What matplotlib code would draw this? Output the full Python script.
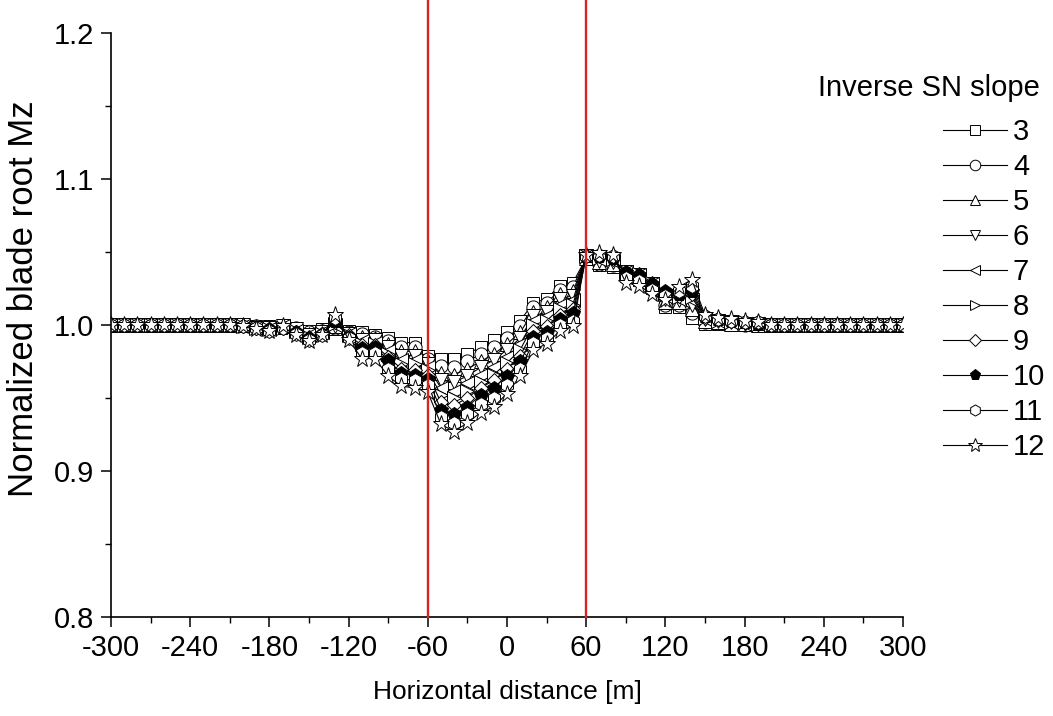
import matplotlib
matplotlib.use("Agg")
import matplotlib.pyplot as plt
from matplotlib.ticker import MultipleLocator, FormatStrFormatter

plt.rcParams["font.family"] = ["Liberation Sans", "DejaVu Sans"]
plt.rcParams["axes.unicode_minus"] = False

distance = [-300, -290, -280, -270, -260, -250, -240, -230, -220, -210,
            -200, -190, -180, -170, -160, -150, -140, -130, -120, -110,
            -100, -90, -80, -70, -60, -50, -40, -30, -20, -10,
            0, 10, 20, 30, 40, 50, 60, 70, 80, 90,
            100, 110, 120, 130, 140, 150, 160, 170, 180, 190,
            200, 210, 220, 230, 240, 250, 260, 270, 280, 290, 300]

s3 = [1.000, 1.000, 1.000, 1.000, 1.000, 1.000, 1.000, 1.000, 1.000, 1.000,
      1.000, 0.999, 0.999, 1.000, 0.998, 0.996, 0.997, 0.997, 0.996, 0.995,
      0.993, 0.991, 0.988, 0.988, 0.979, 0.977, 0.977, 0.980, 0.985, 0.990,
      0.995, 1.003, 1.015, 1.018, 1.027, 1.029, 1.046, 1.041, 1.040, 1.036,
      1.031, 1.025, 1.012, 1.012, 1.005, 1.001, 1.001, 1.000, 1.000, 1.000,
      1.000, 1.000, 1.000, 1.000, 1.000, 1.000, 1.000, 1.000, 1.000, 1.000, 1.000]
s4 = [1.000, 1.000, 1.000, 1.000, 1.000, 1.000, 1.000, 1.000, 1.000, 1.000,
      1.000, 0.999, 0.998, 0.999, 0.998, 0.995, 0.996, 0.998, 0.995, 0.994,
      0.992, 0.989, 0.985, 0.985, 0.977, 0.972, 0.971, 0.975, 0.980, 0.985,
      0.991, 0.999, 1.012, 1.015, 1.024, 1.026, 1.046, 1.042, 1.041, 1.036,
      1.032, 1.026, 1.014, 1.014, 1.008, 1.002, 1.002, 1.001, 1.000, 1.000,
      1.000, 1.000, 1.000, 1.000, 1.000, 1.000, 1.000, 1.000, 1.000, 1.000, 1.000]
s5 = [1.000, 1.000, 1.000, 1.000, 1.000, 1.000, 1.000, 1.000, 1.000, 1.000,
      1.000, 0.999, 0.998, 0.999, 0.997, 0.994, 0.996, 0.999, 0.995, 0.992,
      0.991, 0.987, 0.982, 0.982, 0.975, 0.967, 0.966, 0.970, 0.975, 0.980,
      0.987, 0.995, 1.009, 1.012, 1.021, 1.023, 1.046, 1.043, 1.042, 1.036,
      1.033, 1.027, 1.016, 1.016, 1.011, 1.003, 1.002, 1.001, 1.001, 1.000,
      1.000, 1.000, 1.000, 1.000, 1.000, 1.000, 1.000, 1.000, 1.000, 1.000, 1.000]
s6 = [1.000, 1.000, 1.000, 1.000, 1.000, 1.000, 1.000, 1.000, 1.000, 1.000,
      1.000, 0.998, 0.998, 0.999, 0.997, 0.993, 0.995, 0.999, 0.994, 0.990,
      0.990, 0.985, 0.979, 0.979, 0.973, 0.962, 0.961, 0.965, 0.971, 0.976,
      0.983, 0.991, 1.006, 1.009, 1.018, 1.020, 1.047, 1.044, 1.043, 1.036,
      1.034, 1.028, 1.018, 1.017, 1.014, 1.004, 1.003, 1.002, 1.001, 1.001,
      1.000, 1.000, 1.000, 1.000, 1.000, 1.000, 1.000, 1.000, 1.000, 1.000, 1.000]
s7 = [1.000, 1.000, 1.000, 1.000, 1.000, 1.000, 1.000, 1.000, 1.000, 1.000,
      0.999, 0.998, 0.997, 0.999, 0.996, 0.993, 0.995, 1.000, 0.994, 0.989,
      0.988, 0.982, 0.976, 0.976, 0.971, 0.957, 0.955, 0.960, 0.966, 0.971,
      0.978, 0.987, 1.003, 1.006, 1.014, 1.017, 1.047, 1.045, 1.044, 1.036,
      1.034, 1.028, 1.020, 1.018, 1.017, 1.004, 1.003, 1.002, 1.001, 1.001,
      1.000, 1.000, 1.000, 1.000, 1.000, 1.000, 1.000, 1.000, 1.000, 1.000, 1.000]
s8 = [1.000, 1.000, 1.000, 1.000, 1.000, 1.000, 1.000, 1.000, 1.000, 1.000,
      0.999, 0.998, 0.997, 0.998, 0.996, 0.992, 0.994, 1.001, 0.993, 0.987,
      0.987, 0.980, 0.973, 0.973, 0.969, 0.952, 0.950, 0.955, 0.961, 0.966,
      0.974, 0.983, 1.000, 1.003, 1.011, 1.014, 1.047, 1.046, 1.045, 1.036,
      1.035, 1.029, 1.021, 1.019, 1.019, 1.005, 1.003, 1.002, 1.002, 1.001,
      1.000, 1.000, 1.000, 1.000, 1.000, 1.000, 1.000, 1.000, 1.000, 1.000, 1.000]
s9 = [1.000, 1.000, 1.000, 1.000, 1.000, 1.000, 1.000, 1.000, 1.000, 1.000,
      0.999, 0.998, 0.997, 0.998, 0.995, 0.992, 0.994, 1.002, 0.993, 0.986,
      0.986, 0.978, 0.970, 0.969, 0.966, 0.947, 0.945, 0.950, 0.957, 0.962,
      0.970, 0.979, 0.996, 0.999, 1.007, 1.011, 1.047, 1.047, 1.045, 1.036,
      1.035, 1.029, 1.022, 1.020, 1.021, 1.005, 1.004, 1.003, 1.002, 1.001,
      1.000, 1.000, 1.000, 1.000, 1.000, 1.000, 1.000, 1.000, 1.000, 1.000, 1.000]
s10 = [1.000, 1.000, 1.000, 1.000, 1.000, 1.000, 1.000, 1.000, 1.000, 1.000,
       0.999, 0.998, 0.997, 0.998, 0.995, 0.991, 0.994, 1.003, 0.992, 0.984,
       0.985, 0.976, 0.967, 0.966, 0.963, 0.942, 0.939, 0.944, 0.952, 0.957,
       0.965, 0.975, 0.992, 0.995, 1.004, 1.008, 1.047, 1.047, 1.046, 1.036,
       1.034, 1.028, 1.023, 1.021, 1.023, 1.006, 1.004, 1.003, 1.002, 1.001,
       1.000, 1.000, 1.000, 1.000, 1.000, 1.000, 1.000, 1.000, 1.000, 1.000, 1.000]
s11 = [1.000, 1.000, 1.000, 1.000, 1.000, 1.000, 1.000, 1.000, 1.000, 1.000,
       0.999, 0.998, 0.996, 0.998, 0.994, 0.990, 0.993, 1.005, 0.991, 0.981,
       0.981, 0.970, 0.963, 0.962, 0.959, 0.937, 0.933, 0.939, 0.946, 0.950,
       0.959, 0.970, 0.988, 0.991, 1.000, 1.003, 1.047, 1.048, 1.047, 1.032,
       1.030, 1.024, 1.020, 1.023, 1.027, 1.006, 1.004, 1.003, 1.002, 1.002,
       1.000, 1.000, 1.000, 1.000, 1.000, 1.000, 1.000, 1.000, 1.000, 1.000, 1.000]
s12 = [1.000, 1.000, 1.000, 1.000, 1.000, 1.000, 1.000, 1.000, 1.000, 1.000,
       0.999, 0.997, 0.996, 0.999, 0.993, 0.989, 0.993, 1.007, 0.990, 0.977,
       0.977, 0.965, 0.958, 0.957, 0.954, 0.932, 0.927, 0.933, 0.940, 0.944,
       0.953, 0.965, 0.983, 0.987, 0.996, 0.999, 1.048, 1.049, 1.048, 1.029,
       1.027, 1.021, 1.017, 1.026, 1.031, 1.007, 1.005, 1.004, 1.003, 1.002,
       1.000, 1.000, 1.000, 1.000, 1.000, 1.000, 1.000, 1.000, 1.000, 1.000, 1.000]

slope_labels = ["3", "4", "5", "6", "7", "8", "9", "10", "11", "12"]
series = [s3, s4, s5, s6, s7, s8, s9, s10, s11, s12]
markers = ["s", "o", "^", "v", "<", ">", "D", "p", "h", "*"]
marker_sizes = [9, 9.5, 9.5, 9.5, 9.5, 9.5, 7.5, 10, 10, 12.5]
fills = ["white"] * 7 + ["black"] + ["white"] * 2

wake_edges = [-60, 60]

fig = plt.figure(figsize=(10.53, 7.16), dpi=100)
ax = fig.add_axes([0.1054, 0.1383, 0.7521, 0.8156])

for vals, lab, m, ms, fc in zip(series, slope_labels, markers, marker_sizes, fills):
    ax.plot(distance, vals, color="black", lw=0.8, marker=m, markersize=ms,
            markerfacecolor=fc, markeredgecolor="black", markeredgewidth=0.7,
            label=lab)

for xv in wake_edges:
    ax.axvline(xv, ymin=0, ymax=1.06, color="#dc2222", lw=1.7, clip_on=False, zorder=5)

ax.set_xlim(-300, 300)
ax.set_ylim(0.8, 1.2)
ax.xaxis.set_major_locator(MultipleLocator(60))
ax.xaxis.set_minor_locator(MultipleLocator(30))
ax.yaxis.set_major_locator(MultipleLocator(0.1))
ax.yaxis.set_minor_locator(MultipleLocator(0.05))
ax.yaxis.set_major_formatter(FormatStrFormatter("%.1f"))

for side in ["top", "right"]:
    ax.spines[side].set_visible(False)
for side in ["left", "bottom"]:
    ax.spines[side].set_linewidth(1.2)

ax.tick_params(which="major", direction="out", length=7, width=1.1, labelsize=21, pad=5)
ax.tick_params(which="minor", direction="out", length=4, width=1.0)

ax.set_xlabel("Horizontal distance [m]", fontsize=19, labelpad=13)
ax.set_ylabel("Normalized blade root Mz", fontsize=25)
ax.yaxis.set_label_coords(-0.09, 0.545)

fig.text(1040 / 1053, 1 - 88 / 716, "Inverse SN slope", fontsize=21,
         ha="right", va="center")

leg = fig.legend(loc="upper left", bbox_to_anchor=(943 / 1053, 1 - 118 / 716),
                 bbox_transform=fig.transFigure, frameon=False,
                 fontsize=21, handlelength=2.2, handletextpad=0.2,
                 labelspacing=0.24, markerscale=0.8, borderpad=0,
                 borderaxespad=0)
for line in leg.get_lines():
    line.set_linewidth(0.8)

fig.savefig("out.png", dpi=100)
